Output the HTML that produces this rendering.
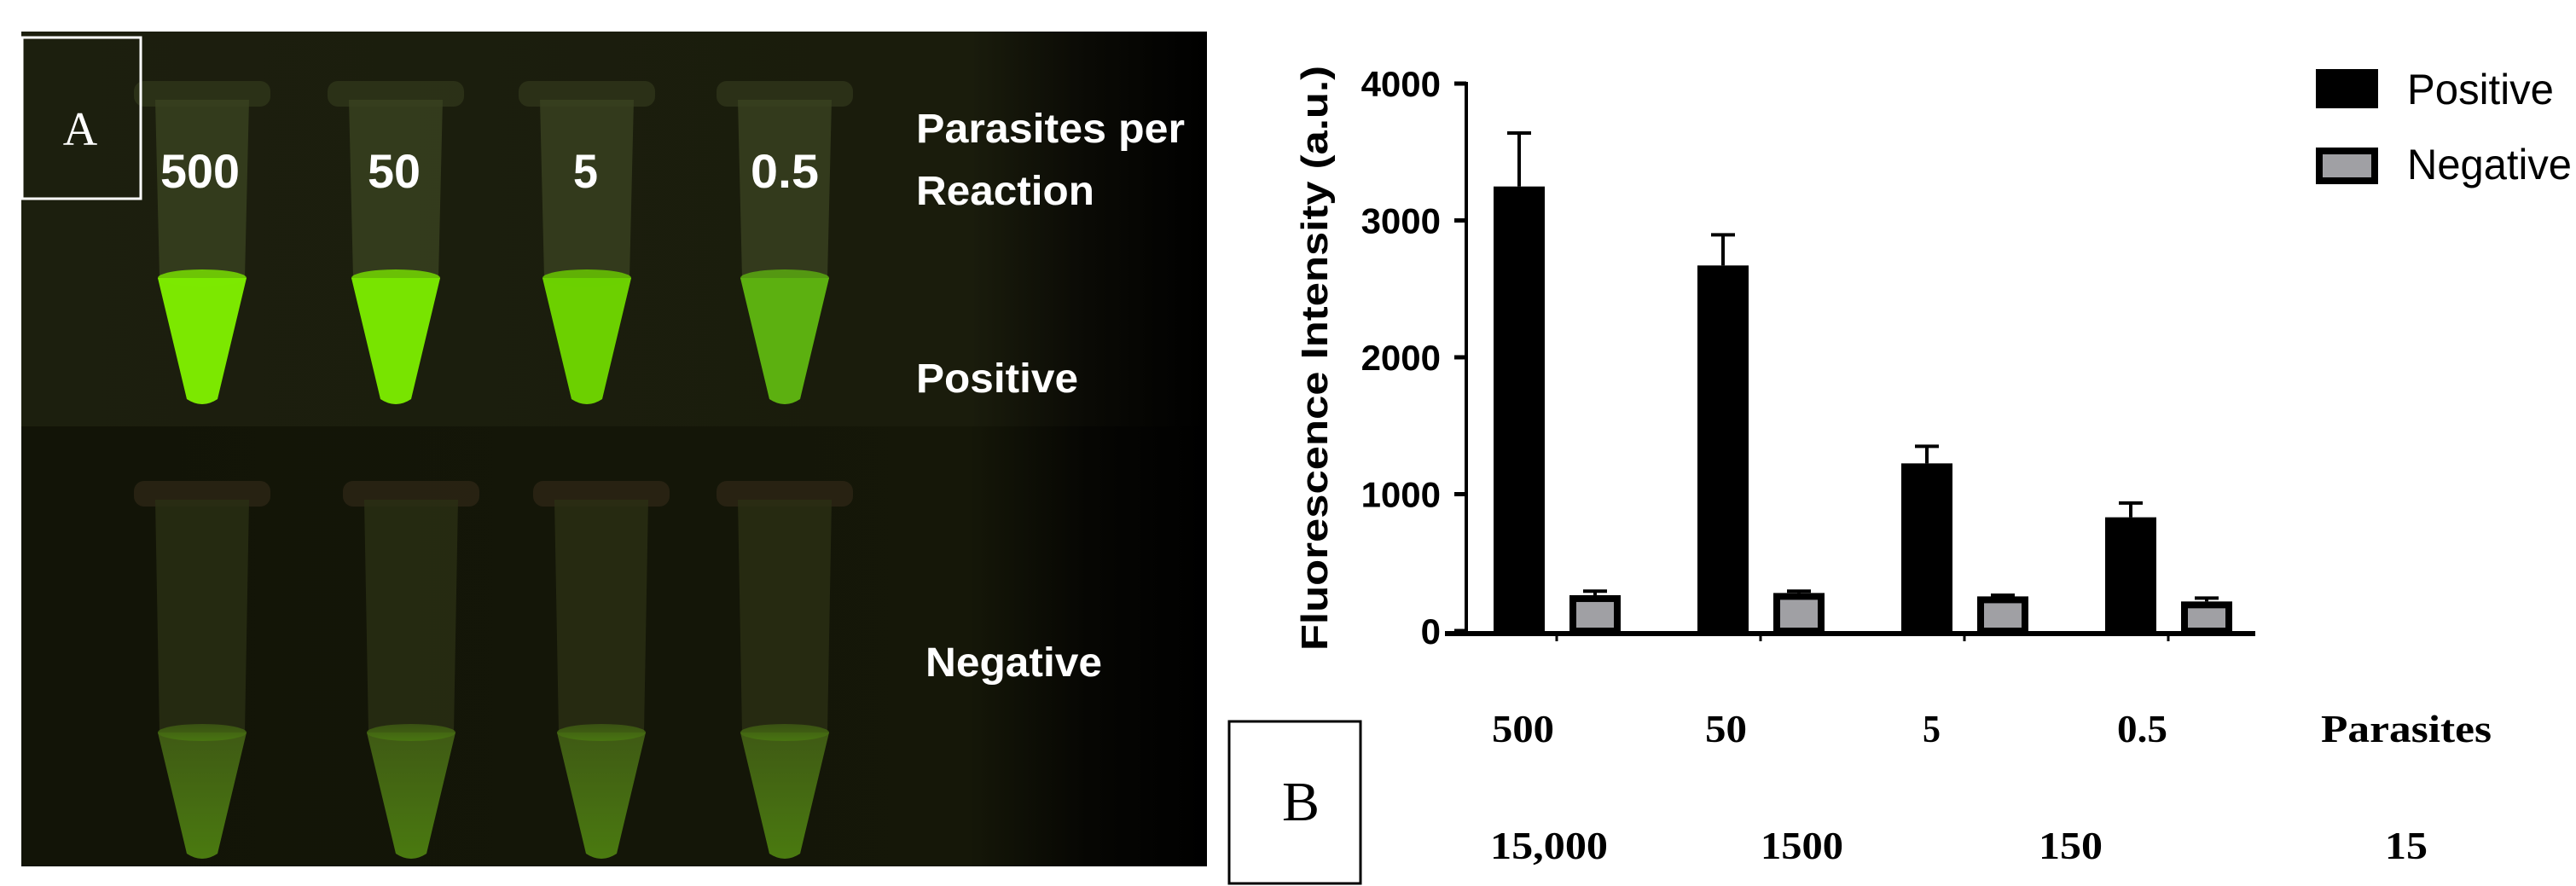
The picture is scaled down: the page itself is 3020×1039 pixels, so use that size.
<!DOCTYPE html>
<html><head><meta charset="utf-8"><style>
html,body{margin:0;padding:0;background:#fff;}
svg{display:block;}
</style></head><body>
<svg id="fig" width="3020" height="1039" viewBox="0 0 3020 1039" xmlns="http://www.w3.org/2000/svg">
<defs>
<linearGradient id="bgTop" x1="0" x2="1" y1="0" y2="0">
<stop offset="0" stop-color="#1c1f0e"/><stop offset="0.8" stop-color="#1a1c0c"/><stop offset="0.9" stop-color="#0a0a05"/><stop offset="1" stop-color="#000"/></linearGradient>
<linearGradient id="bgBot" x1="0" x2="1" y1="0" y2="0">
<stop offset="0" stop-color="#121407"/><stop offset="0.8" stop-color="#151708"/><stop offset="0.9" stop-color="#060603"/><stop offset="1" stop-color="#000"/></linearGradient>
<linearGradient id="liqNeg" x1="0" x2="0" y1="0" y2="1"><stop offset="0" stop-color="#3f5a14"/><stop offset="1" stop-color="#4a7a10"/></linearGradient>
</defs>
<g>
<rect x="25" y="37" width="1390" height="463" fill="url(#bgTop)"/>
<rect x="25" y="500" width="1390" height="516" fill="url(#bgBot)"/>
<g id="tubesTop"></g>
<g id="tubesBot"></g>
<rect x="26" y="44" width="139" height="189" fill="none" stroke="#fff" stroke-width="3"/>
<text x="94" y="170" font-family="Liberation Serif, serif" font-size="56" fill="#fff" text-anchor="middle">A</text>
<g font-family="Liberation Sans, sans-serif" font-weight="bold" fill="#fff" font-size="56">
<text x="188" y="220" textLength="93" lengthAdjust="spacingAndGlyphs">500</text>
<text x="431" y="220" textLength="62" lengthAdjust="spacingAndGlyphs">50</text>
<text x="672" y="220" textLength="29" lengthAdjust="spacingAndGlyphs">5</text>
<text x="880" y="220" textLength="80" lengthAdjust="spacingAndGlyphs">0.5</text>
<text x="1074" y="167" font-size="48" textLength="315" lengthAdjust="spacingAndGlyphs">Parasites per</text>
<text x="1074" y="240" font-size="48" textLength="209" lengthAdjust="spacingAndGlyphs">Reaction</text>
<text x="1074" y="460" font-size="48" textLength="190" lengthAdjust="spacingAndGlyphs">Positive</text>
<text x="1085" y="793" font-size="48" textLength="207" lengthAdjust="spacingAndGlyphs">Negative</text>
</g>
</g>
<g id="chart"></g>
<g font-family="Liberation Serif, serif" font-weight="bold" fill="#000" font-size="46">
<rect x="1441" y="846" width="154" height="190" fill="none" stroke="#000" stroke-width="3"/>
<text x="1525" y="962" font-weight="normal" font-size="66" text-anchor="middle">B</text>
<text x="1749" y="870" textLength="73" lengthAdjust="spacingAndGlyphs">500</text>
<text x="1999" y="870" textLength="49" lengthAdjust="spacingAndGlyphs">50</text>
<text x="2254" y="870" textLength="21" lengthAdjust="spacingAndGlyphs">5</text>
<text x="2482" y="870" textLength="59" lengthAdjust="spacingAndGlyphs">0.5</text>
<text x="2721" y="870" textLength="200" lengthAdjust="spacingAndGlyphs">Parasites</text>
<text x="1747" y="1007" textLength="138" lengthAdjust="spacingAndGlyphs">15,000</text>
<text x="2064" y="1007" textLength="97" lengthAdjust="spacingAndGlyphs">1500</text>
<text x="2390" y="1007" textLength="75" lengthAdjust="spacingAndGlyphs">150</text>
<text x="2796" y="1007" textLength="50" lengthAdjust="spacingAndGlyphs">15</text>
</g>
</svg>
<script>
const categories = ["500", "50", "5", "0.5"];
const positiveValues = [3248, 2671, 1225, 831];
const positiveErrors = [391, 224, 125, 104];
const negativeValues = [262, 278, 253, 216];
const negativeErrors = [29, 13, 9, 25];
const yTicks = [0, 1000, 2000, 3000, 4000];
const tubeTopCenters = [237, 464, 688, 920];
const tubeBotCenters = [237, 482, 705, 920];
const NS = "http://www.w3.org/2000/svg";
function mk(tag, attrs, parent){const e=document.createElementNS(NS,tag);for(const k in attrs)e.setAttribute(k,attrs[k]);parent.appendChild(e);return e;}

function tube(parent, cx, rimY, liqY, tipY, fill, bright){
  const t = mk("g",{},parent);
  
  
  mk("rect",{x:cx-80,y:rimY-22,width:160,height:30,rx:12,fill:bright?"#2e3318":"#2a2414",opacity:0.9},t);
  mk("path",{d:`M${cx-55} ${rimY} L${cx+55} ${rimY} L${cx+50} ${liqY} L${cx+18} ${tipY-8} Q${cx} ${tipY+4} ${cx-18} ${tipY-8} L${cx-50} ${liqY} Z`,fill:bright?"#3a4220":"#2a3014",opacity:0.8},t);
  mk("path",{d:`M${cx-52} ${liqY} L${cx+52} ${liqY} L${cx+18} ${tipY-8} Q${cx} ${tipY+4} ${cx-18} ${tipY-8} Z`,fill:fill},t);
  mk("ellipse",{cx:cx,cy:liqY,rx:52,ry:10,fill:fill,opacity:0.8},t);
}
const tt=document.getElementById("tubesTop"), tb=document.getElementById("tubesBot");
const topFills=["#7ce800","#78e400","#6cd000","#5cb010"];
tubeTopCenters.forEach((c,i)=>tube(tt,c,117,326,476,topFills[i],true));
tubeBotCenters.forEach((c,i)=>tube(tb,c,586,859,1009,"url(#liqNeg)",false));

const g=document.getElementById("chart");
const axX=1719, y0=740, yTop=98, axEnd=2644, yMax=4000;
const yScale=v=>y0-(v/yMax)*(y0-yTop);
const groupStart=1751, groupStep=239, posW=60, negOff=89, negW=60;
const xPos=i=>groupStart+i*groupStep;
const xNeg=i=>groupStart+i*groupStep+negOff;

yTicks.forEach(v=>{
  const y=yScale(v);
  const tk=mk("line",{x1:axX-14,x2:axX,y1:y,y2:y,stroke:"#000","stroke-width":5},g);
  
  
  const lb=mk("text",{x:axX-30,y:y+15,"text-anchor":"end","font-family":"Liberation Sans, sans-serif","font-weight":"bold","font-size":"42",fill:"#000"},g);
  lb.textContent=v;
  
  
});
function errBar(x,w,v,e){
  const cx=x+w/2, yt=yScale(v+e);
  const l=mk("line",{x1:cx,x2:cx,y1:yScale(v),y2:yt,stroke:"#000","stroke-width":4},g);
  
  
  const c=mk("line",{x1:cx-14,x2:cx+14,y1:yt,y2:yt,stroke:"#000","stroke-width":4},g);
  
  
}
categories.forEach((cat,i)=>{
  errBar(xPos(i),posW,positiveValues[i],positiveErrors[i]);
  const b=mk("rect",{x:xPos(i),y:yScale(positiveValues[i]),width:posW,height:y0-yScale(positiveValues[i]),fill:"#000"},g);
  
  
  errBar(xNeg(i),negW,negativeValues[i],negativeErrors[i]);
  const n=mk("rect",{x:xNeg(i)+4,y:yScale(negativeValues[i])+4,width:negW-8,height:y0-yScale(negativeValues[i])-4,fill:"#a0a0a4",stroke:"#000","stroke-width":8},g);
  
  
  const tk=mk("line",{x1:xNeg(i)-15,x2:xNeg(i)-15,y1:y0,y2:y0+12,stroke:"#000","stroke-width":3},g);
  
  
});
const ya=mk("line",{x1:axX,x2:axX,y1:yTop-2,y2:y0,stroke:"#000","stroke-width":4},g);


const xa=mk("line",{x1:1694,x2:axEnd,y1:y0+3,y2:y0+3,stroke:"#000","stroke-width":6},g);


const yt=mk("text",{x:0,y:0,transform:"translate(1556,420) rotate(-90)","text-anchor":"middle","font-family":"Liberation Sans, sans-serif","font-weight":"bold","font-size":"44",fill:"#000",textLength:"686",lengthAdjust:"spacingAndGlyphs"},g);
yt.textContent="Fluorescence Intensity (a.u.)";


const l1=mk("rect",{x:2715,y:81,width:73,height:46,fill:"#000"},g);


const l2=mk("rect",{x:2719,y:177,width:65,height:35,fill:"#a0a0a4",stroke:"#000","stroke-width":8},g);


const t1=mk("text",{x:2822,y:122,"font-family":"Liberation Sans, sans-serif","font-size":"50",fill:"#000",textLength:"172",lengthAdjust:"spacingAndGlyphs"},g);
t1.textContent="Positive";


const t2=mk("text",{x:2822,y:210,"font-family":"Liberation Sans, sans-serif","font-size":"50",fill:"#000",textLength:"193",lengthAdjust:"spacingAndGlyphs"},g);
t2.textContent="Negative";


</script>
</body></html>
